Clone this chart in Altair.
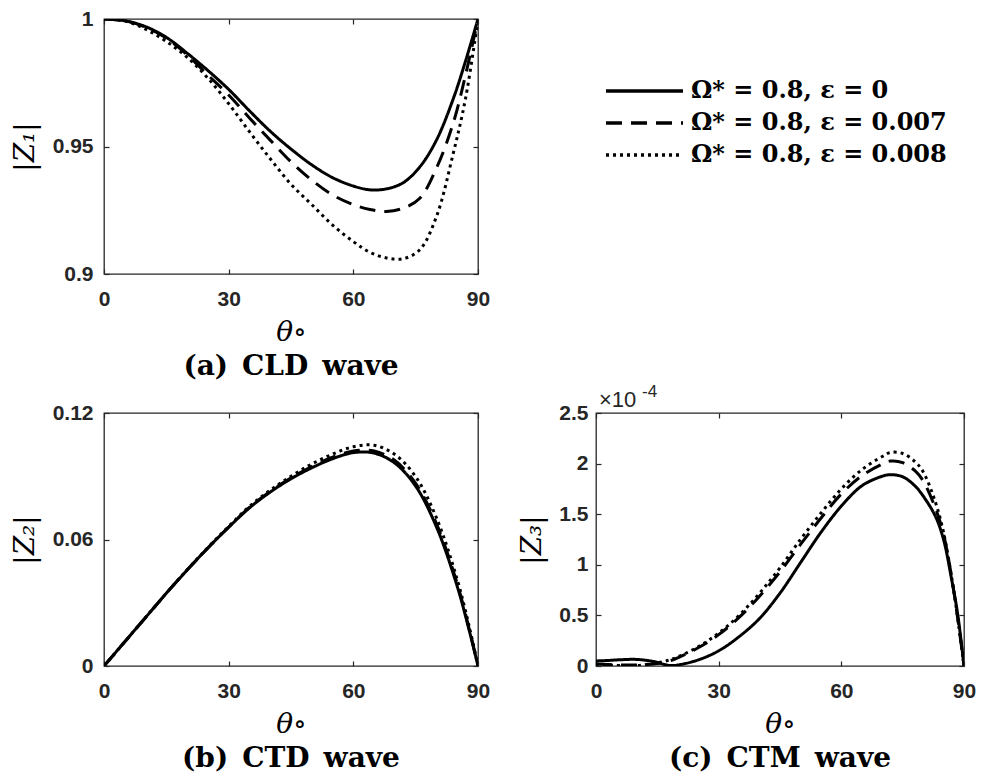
import altair as alt
import pandas as pd

# ---------------- data ----------------
labels = ["Ω* = 0.8, ε = 0", "Ω* = 0.8, ε = 0.007", "Ω* = 0.8, ε = 0.008"]
dashes = [[1, 0], [16, 9], [3, 4]]

theta_a = [0, 5, 10, 15, 20, 25, 30, 35, 40, 45, 50, 55, 60, 64, 68, 72, 76, 80, 84, 87, 90]
a_eps0 = [1.0, 0.9993, 0.997, 0.9928, 0.9866, 0.9798, 0.9724, 0.9640, 0.9560, 0.9490, 0.9428,
          0.9378, 0.9345, 0.9330, 0.9334, 0.9358, 0.9420, 0.9525, 0.9685, 0.9835, 1.0]
a_eps7 = [1.0, 0.9993, 0.9968, 0.9925, 0.9860, 0.9780, 0.9702, 0.9612, 0.9525, 0.9440, 0.9368,
          0.9310, 0.9272, 0.9253, 0.9245, 0.9258, 0.9297, 0.9415, 0.9590, 0.9780, 1.0]
a_eps8 = [1.0, 0.9992, 0.996, 0.9912, 0.9850, 0.9768, 0.9668, 0.9558, 0.9452, 0.9352, 0.9272,
          0.9192, 0.9127, 0.9085, 0.9063, 0.9060, 0.9095, 0.9225, 0.9470, 0.9688, 1.0]

theta_b = [0, 5, 10, 15, 20, 25, 30, 35, 40, 45, 50, 55, 60, 65, 70, 75, 80, 85, 88, 90]
b_eps0 = [0, 0.0115, 0.023, 0.0345, 0.0455, 0.056, 0.0658, 0.0750, 0.0825, 0.0888, 0.0940,
          0.0983, 0.1012, 0.1010, 0.0962, 0.0853, 0.0660, 0.0378, 0.0160, 0]
b_eps7 = [0, 0.0115, 0.023, 0.0345, 0.0455, 0.056, 0.0659, 0.0752, 0.0828, 0.0892, 0.0946,
          0.0990, 0.1020, 0.1020, 0.0975, 0.0866, 0.0675, 0.0390, 0.0166, 0]
b_eps8 = [0, 0.0115, 0.023, 0.0345, 0.0456, 0.0562, 0.0662, 0.0757, 0.0834, 0.0900, 0.0958,
          0.1005, 0.1040, 0.1047, 0.1003, 0.0898, 0.0703, 0.0410, 0.0178, 0]

theta_c = [0, 3, 6, 10, 14, 18, 20, 25, 30, 35, 40, 45, 50, 55, 60, 65, 70, 72, 75, 78, 80,
           83, 85, 87, 88.5, 90]
c_eps0 = [0.05, 0.055, 0.062, 0.065, 0.045, 0.005, 0.01, 0.06, 0.15, 0.29, 0.47, 0.72, 1.02,
          1.32, 1.58, 1.78, 1.875, 1.89, 1.87, 1.78, 1.68, 1.48, 1.25, 0.85, 0.5, 0]
c_eps7 = [0.02, 0.015, 0.01, 0.01, 0.02, 0.05, 0.08, 0.18, 0.31, 0.48, 0.69, 0.93, 1.2,
          1.46, 1.70, 1.88, 1.995, 2.025, 2.01, 1.93, 1.83, 1.56, 1.30, 0.87, 0.46, 0]
c_eps8 = [0.02, 0.01, 0.005, 0.005, 0.025, 0.06, 0.09, 0.19, 0.325, 0.5, 0.72, 0.97, 1.25,
          1.51, 1.75, 1.94, 2.07, 2.11, 2.10, 2.02, 1.92, 1.62, 1.32, 0.87, 0.46, 0]

x_ticks = [0, 30, 60, 90]

INK = "#262626"
SP = "\u2002"


def long_df(theta, series):
    rows = []
    for lab, vals in zip(labels, series):
        for t, v in zip(theta, vals):
            rows.append({"theta": t, "value": v, "series": lab})
    return pd.DataFrame(rows)


def panel(df, ydom, yticks, ytitle, title, width, height, ylabpad=11, ytitlepad=13, extra=None):
    xs = alt.Scale(domain=[0, 90], nice=False, zero=False)
    ys = alt.Scale(domain=ydom, nice=False, zero=False)
    lines = alt.Chart(df).mark_line(color="black", strokeWidth=3, interpolate="catmull-rom", clip=True).encode(
        x=alt.X("theta:Q", scale=xs,
                axis=alt.Axis(values=x_ticks, orient="bottom", offset=-5, tickSize=5, domain=False,
                              grid=False, labelPadding=14, labelFlush=False, format="d",
                              title="θ∘", titlePadding=9)),
        y=alt.Y("value:Q", scale=ys,
                axis=alt.Axis(values=yticks, orient="left", offset=-5, tickSize=5, domain=False,
                              grid=False, labelPadding=ylabpad, format=".2~f", title=ytitle,
                              titlePadding=ytitlepad)),
        strokeDash=alt.StrokeDash("series:N", scale=alt.Scale(domain=labels, range=dashes), legend=None),
        detail="series:N",
    )
    frame = alt.Chart(df).mark_line(opacity=0).encode(
        x=alt.X("theta:Q", scale=xs,
                axis=alt.Axis(values=x_ticks, orient="top", offset=-5, tickSize=5, domain=False,
                              grid=False, labels=False, title=None)),
        y=alt.Y("value:Q", scale=ys,
                axis=alt.Axis(values=yticks, orient="right", offset=-5, tickSize=5, domain=False,
                              grid=False, labels=False, title=None)),
    )
    layers = [lines, frame]
    if extra is not None:
        layers += extra
    return alt.layer(*layers).resolve_axis(x="independent", y="independent").properties(
        width=width, height=height,
        title=alt.TitleParams(title, orient="bottom", font="DejaVu Serif", fontWeight="bold",
                              fontSize=28, color="black", frame="group", anchor="middle", offset=7),
    )


pa = panel(long_df(theta_a, [a_eps0, a_eps7, a_eps8]), [0.9, 1.0], [0.9, 0.95, 1.0],
           "|Z₁|", "(a)" + SP + "CLD" + SP + "wave", 374, 255)
pb = panel(long_df(theta_b, [b_eps0, b_eps7, b_eps8]), [0, 0.12], [0, 0.06, 0.12],
           "|Z₂|", "(b)" + SP + "CTD" + SP + "wave", 374, 253)

exp_df = pd.DataFrame({"base": ["×10"], "power": ["-4"]})
exp_base = alt.Chart(exp_df).mark_text(align="left", baseline="alphabetic", font="Liberation Sans",
                                       fontSize=22, color=INK).encode(
    x=alt.value(3), y=alt.value(-6), text="base:N")
exp_pow = alt.Chart(exp_df).mark_text(align="left", baseline="alphabetic", font="Liberation Sans",
                                      fontSize=17, color=INK).encode(
    x=alt.value(46), y=alt.value(-16), text="power:N")
pc = panel(long_df(theta_c, [c_eps0, c_eps7, c_eps8]), [0, 2.5], [0, 0.5, 1, 1.5, 2, 2.5],
           "|Z₃|", "(c)" + SP + "CTM" + SP + "wave", 368, 253, ylabpad=8, ytitlepad=12,
           extra=[exp_base, exp_pow])

# legend
leg_df = pd.DataFrame({"label": labels})
y_leg = alt.Y("label:N", sort=labels, axis=None,
              scale=alt.Scale(type="point", range=[72, 136], padding=0))
leg_rules = alt.Chart(leg_df).mark_rule(color="black", strokeWidth=3.5).encode(
    x=alt.value(94), x2=alt.value(171), y=y_leg,
    strokeDash=alt.StrokeDash("label:N", scale=alt.Scale(domain=labels, range=[[1, 0], [18, 10], [3, 3]]),
                              legend=None),
)
leg_text = alt.Chart(leg_df).mark_text(align="left", baseline="middle", font="DejaVu Serif",
                                       fontWeight="bold", fontSize=24, color="black").encode(
    x=alt.value(179), y=y_leg, text="label:N")
legend = alt.layer(leg_rules, leg_text).properties(
    width=360, height=255, view=alt.ViewBackground(stroke="transparent"))

chart = alt.vconcat(
    alt.hconcat(pa, legend, spacing=20),
    alt.hconcat(pb, pc, spacing=27),
    spacing=0,
).properties(padding={"left": 2, "top": -1, "right": 0, "bottom": 0}).configure_view(
    stroke=INK, strokeWidth=1.3
).configure_axis(
    tickColor=INK, tickWidth=1.2, labelFont="Liberation Sans", labelFontWeight="bold",
    labelFontSize=21, labelColor=INK, titleFont="DejaVu Serif", titleFontStyle="italic",
    titleFontWeight="normal", titleFontSize=28, titleColor="black"
)

chart.save("out.html", embed_options={"renderer": "svg", "actions": False})
